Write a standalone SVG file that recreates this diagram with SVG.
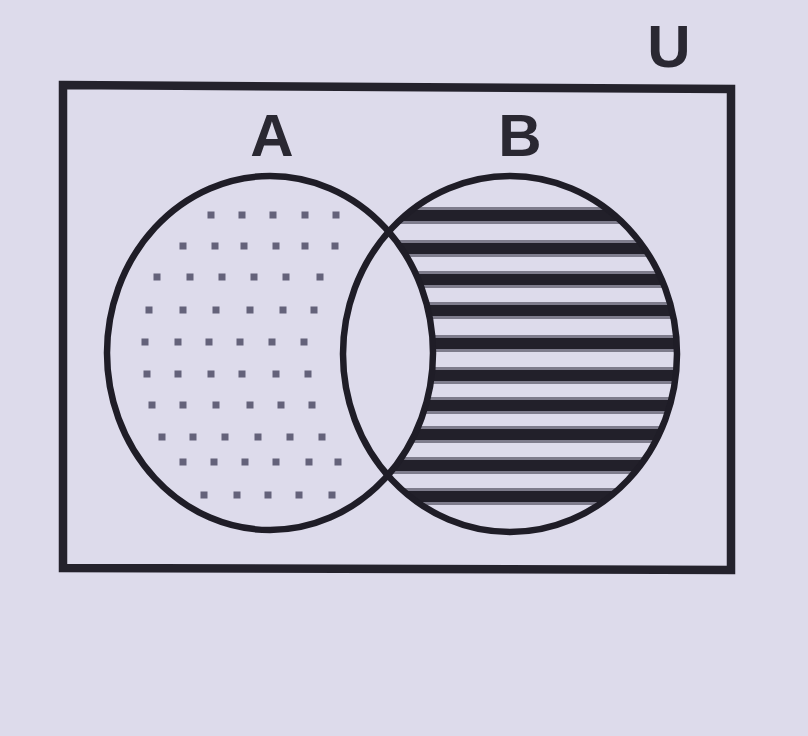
<svg xmlns="http://www.w3.org/2000/svg" width="808" height="736" viewBox="0 0 808 736">
  <defs>
    <style>
      .outline { fill: none; stroke: #1f1d27; stroke-width: 6.5; }
      .frame { fill: none; stroke: #24222c; stroke-width: 8.5; stroke-linejoin: miter; }
      .lbl { font-family: "Liberation Sans", Arial, sans-serif; font-weight: bold; font-size: 60px; fill: #2a2832; text-anchor: middle; }
      .dot { fill: #64627a; }
      .stripe { fill: #22202a; }
      .stripe2 { fill: #7e7c8c; }
    </style>
    <clipPath id="clipB">
      <ellipse cx="510" cy="354" rx="167" ry="178"/>
    </clipPath>
    <g id="dotrow">
      <rect class="dot" x="-3.5" y="-3.5" width="7" height="7"/>
    </g>
  </defs>

  <rect x="0" y="0" width="808" height="736" fill="#dddbeb"/>

  <g id="universe">
    <polygon class="frame" points="63,85 731,89 731,570 63,568"/>
    <text class="lbl" x="669" y="67">U</text>
  </g>

  <g id="setA">
    <g id="dotsA">
      <use href="#dotrow" x="211" y="215"/><use href="#dotrow" x="242" y="215"/><use href="#dotrow" x="273" y="215"/><use href="#dotrow" x="305" y="215"/><use href="#dotrow" x="336" y="215"/>
      <use href="#dotrow" x="183" y="246"/><use href="#dotrow" x="215" y="246"/><use href="#dotrow" x="244" y="246"/><use href="#dotrow" x="276" y="246"/><use href="#dotrow" x="305" y="246"/><use href="#dotrow" x="335" y="246"/>
      <use href="#dotrow" x="157" y="277"/><use href="#dotrow" x="190" y="277"/><use href="#dotrow" x="222" y="277"/><use href="#dotrow" x="254" y="277"/><use href="#dotrow" x="286" y="277"/><use href="#dotrow" x="320" y="277"/>
      <use href="#dotrow" x="149" y="310"/><use href="#dotrow" x="183" y="310"/><use href="#dotrow" x="216" y="310"/><use href="#dotrow" x="250" y="310"/><use href="#dotrow" x="283" y="310"/><use href="#dotrow" x="314" y="310"/>
      <use href="#dotrow" x="145" y="342"/><use href="#dotrow" x="178" y="342"/><use href="#dotrow" x="209" y="342"/><use href="#dotrow" x="240" y="342"/><use href="#dotrow" x="272" y="342"/><use href="#dotrow" x="304" y="342"/>
      <use href="#dotrow" x="147" y="374"/><use href="#dotrow" x="178" y="374"/><use href="#dotrow" x="211" y="374"/><use href="#dotrow" x="242" y="374"/><use href="#dotrow" x="276" y="374"/><use href="#dotrow" x="308" y="374"/>
      <use href="#dotrow" x="152" y="405"/><use href="#dotrow" x="183" y="405"/><use href="#dotrow" x="216" y="405"/><use href="#dotrow" x="250" y="405"/><use href="#dotrow" x="281" y="405"/><use href="#dotrow" x="312" y="405"/>
      <use href="#dotrow" x="162" y="437"/><use href="#dotrow" x="193" y="437"/><use href="#dotrow" x="225" y="437"/><use href="#dotrow" x="258" y="437"/><use href="#dotrow" x="290" y="437"/><use href="#dotrow" x="322" y="437"/>
      <use href="#dotrow" x="183" y="462"/><use href="#dotrow" x="214" y="462"/><use href="#dotrow" x="245" y="462"/><use href="#dotrow" x="276" y="462"/><use href="#dotrow" x="309" y="462"/><use href="#dotrow" x="338" y="462"/>
      <use href="#dotrow" x="204" y="495"/><use href="#dotrow" x="237" y="495"/><use href="#dotrow" x="268" y="495"/><use href="#dotrow" x="299" y="495"/><use href="#dotrow" x="332" y="495"/>
    </g>
    <text class="lbl" x="272" y="156">A</text>
  </g>

  <g id="setB">
    <g id="stripesB" clip-path="url(#clipB)">
      <rect class="stripe2" x="340" y="207" width="340" height="17"/>
      <rect class="stripe" x="340" y="210" width="340" height="11"/>
      <rect class="stripe2" x="340" y="240" width="340" height="17"/>
      <rect class="stripe" x="340" y="243" width="340" height="11"/>
      <rect class="stripe2" x="340" y="271" width="340" height="17"/>
      <rect class="stripe" x="340" y="274" width="340" height="11"/>
      <rect class="stripe2" x="340" y="302" width="340" height="17"/>
      <rect class="stripe" x="340" y="305" width="340" height="11"/>
      <rect class="stripe2" x="340" y="335" width="340" height="17"/>
      <rect class="stripe" x="340" y="338" width="340" height="11"/>
      <rect class="stripe2" x="340" y="367" width="340" height="17"/>
      <rect class="stripe" x="340" y="370" width="340" height="11"/>
      <rect class="stripe2" x="340" y="397" width="340" height="17"/>
      <rect class="stripe" x="340" y="400" width="340" height="11"/>
      <rect class="stripe2" x="340" y="426" width="340" height="17"/>
      <rect class="stripe" x="340" y="429" width="340" height="11"/>
      <rect class="stripe2" x="340" y="457" width="340" height="17"/>
      <rect class="stripe" x="340" y="460" width="340" height="11"/>
      <rect class="stripe2" x="340" y="488" width="340" height="17"/>
      <rect class="stripe" x="340" y="491" width="340" height="11"/>
      <ellipse cx="270" cy="353" rx="163" ry="177" fill="#dddbeb"/>
    </g>
    <text class="lbl" x="520" y="156">B</text>
  </g>

  <g id="outlines">
    <ellipse class="outline" cx="270" cy="353" rx="163" ry="177"/>
    <ellipse class="outline" cx="510" cy="354" rx="167" ry="178"/>
  </g>
</svg>
